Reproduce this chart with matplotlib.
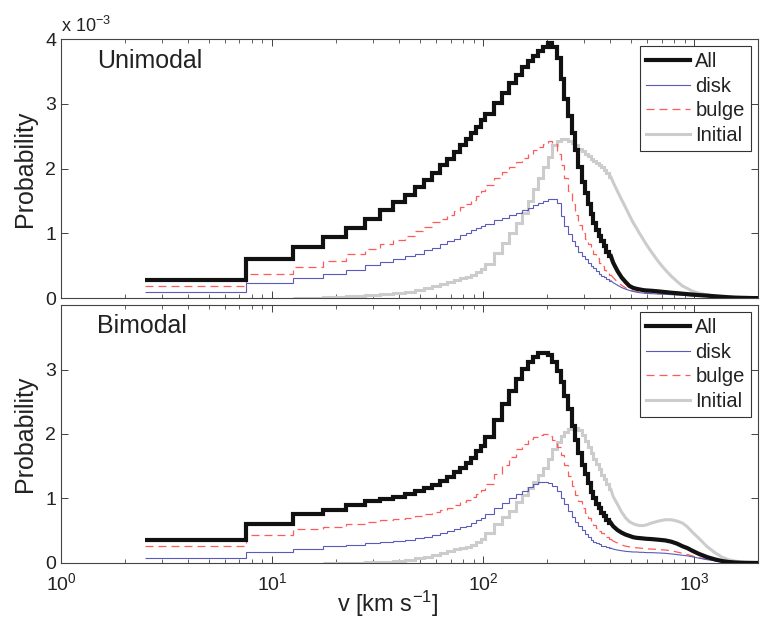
import numpy as np
import matplotlib
matplotlib.use('Agg')
import matplotlib.pyplot as plt

# === velocity bins [km/s]: 5 km/s bins at low v, wider in the tail ===
edges = np.concatenate([np.arange(2.5, 102.5, 5), np.arange(102.5, 402.5, 10),
                        np.arange(402.5, 602.5, 20), np.arange(602.5, 1002.5, 50),
                        np.arange(1002.5, 2003, 100)])
n_step = 50  # bins drawn as a staircase; the wide tail bins are drawn as a line

# === probabilities (units of 1e-3) ===
uni_all = [0.28, 0.60, 0.79, 0.94, 1.09, 1.23, 1.36, 1.49, 1.59, 1.71, 1.83, 1.94, 2.05, 2.15, 2.26, 2.36, 2.45, 2.55, 2.65, 2.75,
           2.84, 3.01, 3.17, 3.32, 3.45, 3.57, 3.66, 3.74, 3.81, 3.87, 3.94, 3.88, 3.70, 3.38, 3.08, 2.82, 2.55, 2.28, 2.03, 1.80,
           1.62, 1.45, 1.30, 1.16, 1.05, 0.96, 0.88, 0.80, 0.72, 0.65,
           0.55, 0.42, 0.32, 0.25, 0.19, 0.16, 0.145, 0.135, 0.125, 0.12,
           0.115, 0.105, 0.095, 0.085, 0.078, 0.07, 0.063, 0.057,
           0.048, 0.04, 0.03, 0.022, 0.015, 0.01, 0.007, 0.005, 0.003, 0.002]
uni_disk = [0.09, 0.23, 0.31, 0.38, 0.44, 0.51, 0.56, 0.61, 0.65, 0.69, 0.74, 0.78, 0.83, 0.88, 0.92, 0.97, 1.01, 1.05, 1.09, 1.12,
            1.15, 1.20, 1.24, 1.28, 1.32, 1.36, 1.40, 1.44, 1.47, 1.50, 1.53, 1.53, 1.47, 1.27, 1.12, 0.99, 0.89, 0.80, 0.72, 0.65,
            0.60, 0.55, 0.50, 0.46, 0.42, 0.38, 0.35, 0.32, 0.29, 0.27,
            0.24, 0.20, 0.165, 0.14, 0.12, 0.105, 0.095, 0.085, 0.08, 0.075,
            0.07, 0.065, 0.06, 0.055, 0.05, 0.045, 0.04, 0.035,
            0.03, 0.025, 0.02, 0.015, 0.01, 0.007, 0.005, 0.003, 0.002, 0.001]
uni_bulge = [0.19, 0.38, 0.48, 0.58, 0.68, 0.76, 0.83, 0.90, 0.96, 1.03, 1.10, 1.17, 1.23, 1.29, 1.35, 1.41, 1.46, 1.52, 1.58, 1.65,
             1.74, 1.86, 1.95, 2.03, 2.10, 2.16, 2.22, 2.28, 2.33, 2.38, 2.42, 2.38, 2.22, 2.05, 1.86, 1.66, 1.46, 1.28, 1.13, 1.00,
             0.91, 0.83, 0.75, 0.68, 0.62, 0.55, 0.49, 0.44, 0.40, 0.36,
             0.32, 0.25, 0.20, 0.16, 0.13, 0.11, 0.10, 0.09, 0.085, 0.08,
             0.075, 0.07, 0.065, 0.06, 0.055, 0.05, 0.045, 0.04,
             0.035, 0.03, 0.025, 0.02, 0.015, 0.01, 0.007, 0.005, 0.003, 0.002]
uni_init = [np.nan, np.nan, 0.005, 0.015, 0.03, 0.045, 0.06, 0.08, 0.10, 0.13, 0.16, 0.19, 0.22, 0.25, 0.28, 0.31, 0.33, 0.36, 0.40, 0.45,
            0.53, 0.70, 0.86, 1.00, 1.16, 1.32, 1.50, 1.68, 1.85, 2.02, 2.18, 2.36, 2.43, 2.45, 2.45, 2.43, 2.40, 2.36, 2.31, 2.27,
            2.23, 2.19, 2.15, 2.12, 2.09, 2.06, 2.02, 1.98, 1.93, 1.87,
            1.79, 1.65, 1.52, 1.40, 1.28, 1.17, 1.08, 0.99, 0.91, 0.83,
            0.71, 0.56, 0.44, 0.34, 0.26, 0.19, 0.15, 0.11,
            0.08, 0.05, 0.03, 0.018, 0.01, 0.006, 0.004, 0.002, 0.001, 0.0]

bi_all = [0.35, 0.61, 0.76, 0.82, 0.90, 0.96, 0.99, 1.03, 1.07, 1.11, 1.16, 1.21, 1.27, 1.34, 1.41, 1.48, 1.55, 1.63, 1.73, 1.82,
          1.96, 2.22, 2.46, 2.67, 2.86, 3.01, 3.12, 3.20, 3.25, 3.26, 3.22, 3.12, 2.97, 2.80, 2.59, 2.38, 2.12, 1.90, 1.70, 1.52,
          1.38, 1.24, 1.10, 1.00, 0.92, 0.85, 0.78, 0.73, 0.67, 0.62,
          0.57, 0.51, 0.47, 0.44, 0.42, 0.40, 0.39, 0.385, 0.38, 0.375,
          0.37, 0.36, 0.35, 0.33, 0.30, 0.26, 0.23, 0.19,
          0.14, 0.09, 0.055, 0.03, 0.015, 0.008, 0.004, 0.002, 0.001, 0.0]
bi_disk = [0.08, 0.17, 0.22, 0.26, 0.28, 0.31, 0.32, 0.34, 0.36, 0.38, 0.40, 0.43, 0.46, 0.49, 0.52, 0.55, 0.58, 0.62, 0.66, 0.70,
           0.76, 0.85, 0.93, 1.00, 1.07, 1.12, 1.18, 1.22, 1.25, 1.25, 1.24, 1.19, 1.11, 1.01, 0.91, 0.81, 0.72, 0.64, 0.57, 0.51,
           0.45, 0.40, 0.36, 0.33, 0.31, 0.29, 0.27, 0.26, 0.24, 0.23,
           0.215, 0.20, 0.19, 0.18, 0.175, 0.17, 0.17, 0.165, 0.165, 0.16,
           0.16, 0.155, 0.15, 0.14, 0.13, 0.12, 0.11, 0.095,
           0.075, 0.05, 0.035, 0.02, 0.012, 0.007, 0.004, 0.002, 0.001, 0.0]
bi_bulge = [0.26, 0.43, 0.52, 0.56, 0.61, 0.64, 0.66, 0.68, 0.70, 0.73, 0.76, 0.79, 0.82, 0.86, 0.90, 0.94, 0.98, 1.02, 1.07, 1.13,
            1.22, 1.38, 1.52, 1.64, 1.76, 1.85, 1.92, 1.96, 1.99, 2.00, 1.97, 1.91, 1.80, 1.67, 1.52, 1.35, 1.19, 1.06, 0.96, 0.86,
            0.77, 0.70, 0.64, 0.59, 0.54, 0.50, 0.46, 0.43, 0.40, 0.37,
            0.34, 0.31, 0.28, 0.26, 0.25, 0.24, 0.235, 0.23, 0.225, 0.22,
            0.215, 0.21, 0.20, 0.19, 0.17, 0.15, 0.13, 0.11,
            0.08, 0.055, 0.035, 0.02, 0.012, 0.007, 0.004, 0.002, 0.001, 0.0]
bi_init = [np.nan, np.nan, np.nan, 0.002, 0.006, 0.012, 0.02, 0.035, 0.05, 0.08, 0.10, 0.12, 0.15, 0.18, 0.21, 0.23, 0.25, 0.28, 0.32, 0.37,
           0.47, 0.60, 0.71, 0.81, 0.94, 1.06, 1.16, 1.25, 1.36, 1.48, 1.62, 1.76, 1.88, 1.97, 2.03, 2.07, 2.09, 2.09, 2.06, 1.98,
           1.89, 1.80, 1.70, 1.61, 1.53, 1.45, 1.37, 1.30, 1.22, 1.14,
           1.03, 0.91, 0.79, 0.70, 0.64, 0.61, 0.59, 0.58, 0.58, 0.59,
           0.62, 0.65, 0.67, 0.67, 0.65, 0.62, 0.56, 0.48,
           0.38, 0.25, 0.16, 0.09, 0.05, 0.03, 0.015, 0.008, 0.004, 0.002]

# === style ===
plt.rcParams['font.family'] = ['Liberation Sans', 'DejaVu Sans']
plt.rcParams['mathtext.fontset'] = 'custom'
plt.rcParams['mathtext.rm'] = 'Liberation Sans'
plt.rcParams['mathtext.default'] = 'regular'
plt.rcParams['axes.edgecolor'] = '#444444'
plt.rcParams['axes.linewidth'] = 0.8

centers = 0.5 * (edges[:-1] + edges[1:])

fig = plt.figure(figsize=(7.65, 6.2), dpi=100)
ax1 = fig.add_axes([0.0797, 0.519, 0.911, 0.418])
ax2 = fig.add_axes([0.0797, 0.092, 0.911, 0.416])


def hist_line(ax, vals, label, z, **kw):
    vals = np.asarray(vals, dtype=float)
    h = ax.stairs(vals[:n_step], edges[:n_step + 1], baseline=None, label=label, zorder=z, **kw)
    # narrow bins in the tail: draw as a continuous line
    tx = np.r_[edges[n_step], centers[n_step:], edges[-1]]
    ty = np.r_[vals[n_step - 1], vals[n_step:], vals[-1]]
    ax.plot(tx, ty, zorder=z, **kw)
    return h


def draw_panel(ax, v_all, v_disk, v_bulge, v_init, name, yticks):
    h_init = hist_line(ax, v_init, 'Initial', 2, color='#cccccc', lw=2.2)
    h_bulge = hist_line(ax, v_bulge, 'bulge', 3, color='#ff5a5a', lw=0.9, linestyle=(0, (6.4, 4)))
    h_disk = hist_line(ax, v_disk, 'disk', 4, color='#5a5ab8', lw=0.8)
    h_all = hist_line(ax, v_all, 'All', 5, color='#111111', lw=3.0)
    ax.set_xscale('log')
    ax.set_xlim(1, 2000)
    ax.set_ylim(0, 4)
    ax.set_yticks(yticks)
    ax.set_ylabel('Probability', fontsize=18, color='#222222', labelpad=6)
    ax.tick_params(which='both', direction='in', top=True, right=True, labelsize=14, colors='#222222')
    ax.tick_params(which='major', length=5, width=0.6)
    ax.tick_params(which='minor', length=3, width=0.5)
    ax.tick_params(axis='x', pad=7)
    ax.text(0.052, 0.89, name, transform=ax.transAxes, fontsize=18, color='#222222')
    leg = ax.legend(handles=[h_all, h_disk, h_bulge, h_init], loc='upper right', fontsize=14.5,
                    fancybox=False, framealpha=1, edgecolor='#333333', borderpad=0.3,
                    handlelength=2.2, handletextpad=0.25, labelspacing=0.28, borderaxespad=0.35)
    leg.get_frame().set_linewidth(0.8)
    for t in leg.get_texts():
        t.set_color('#222222')


draw_panel(ax1, uni_all, uni_disk, uni_bulge, uni_init, 'Unimodal', [0, 1, 2, 3, 4])
draw_panel(ax2, bi_all, bi_disk, bi_bulge, bi_init, 'Bimodal', [0, 1, 2, 3])

ax1.tick_params(labelbottom=False)
ax1.text(0.0, 1.01, r'x 10$^{-3}$', transform=ax1.transAxes, fontsize=13, color='#222222', va='bottom')
ax2.set_xlabel(r'v [km s$^{-1}$]', fontsize=17, color='#222222', labelpad=0)
ax2.xaxis.set_label_coords(0.469, -0.1)

fig.savefig('out.png', dpi=100)
